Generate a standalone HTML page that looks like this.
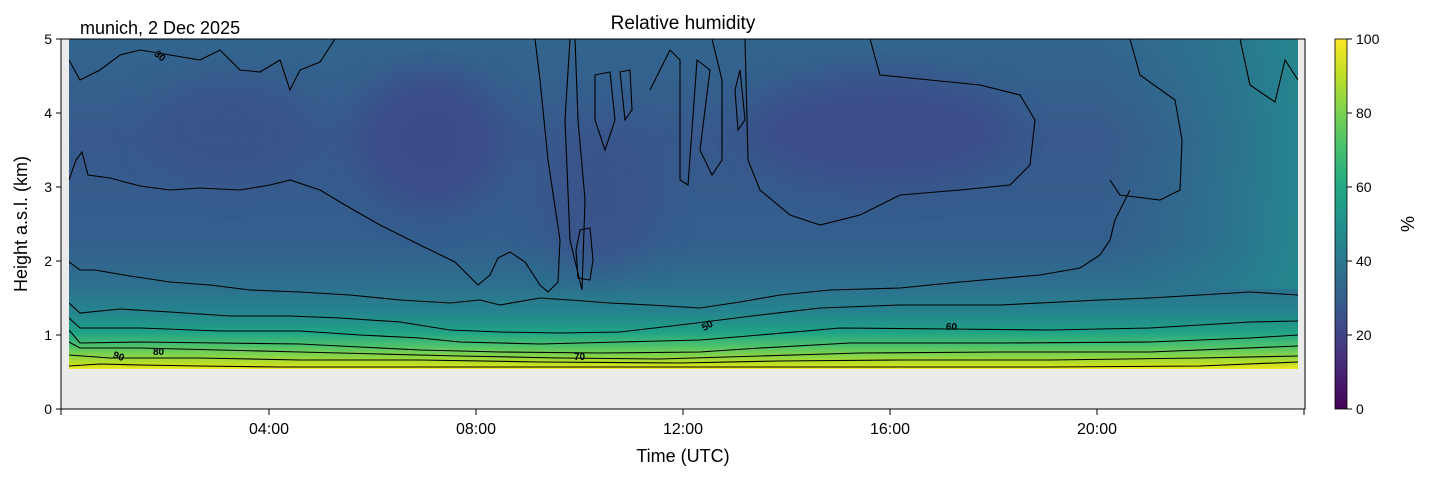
<!DOCTYPE html>
<html><head><meta charset="utf-8"><style>
body{margin:0;background:#fff;}
svg{display:block;font-family:"Liberation Sans",sans-serif;}
</style></head><body>
<svg width="1429" height="478" viewBox="0 0 1429 478">
<defs>
<linearGradient id="vg" x1="0" y1="39" x2="0" y2="369" gradientUnits="userSpaceOnUse">
<stop offset="0" stop-color="#32668e"/>
<stop offset="0.3" stop-color="#38598c"/>
<stop offset="0.62" stop-color="#335f8d"/>
<stop offset="0.75" stop-color="#2d708e"/>
<stop offset="0.83" stop-color="#25858e"/>
<stop offset="0.89" stop-color="#20a386"/>
<stop offset="0.93" stop-color="#4cc26c"/>
<stop offset="0.96" stop-color="#86d549"/>
<stop offset="0.985" stop-color="#c2df23"/>
<stop offset="1" stop-color="#f0e51f"/>
</linearGradient>
<linearGradient id="cb" x1="0" y1="409" x2="0" y2="39" gradientUnits="userSpaceOnUse">
<stop offset="0" stop-color="#440154"/><stop offset="0.1" stop-color="#482475"/>
<stop offset="0.2" stop-color="#414487"/><stop offset="0.3" stop-color="#355f8d"/>
<stop offset="0.4" stop-color="#2a788e"/><stop offset="0.5" stop-color="#21918c"/>
<stop offset="0.6" stop-color="#22a884"/><stop offset="0.7" stop-color="#44bf70"/>
<stop offset="0.8" stop-color="#7ad151"/><stop offset="0.9" stop-color="#bddf26"/>
<stop offset="1" stop-color="#fde725"/>
</linearGradient>
<linearGradient id="rg" x1="1100" y1="0" x2="1298" y2="0" gradientUnits="userSpaceOnUse">
<stop offset="0" stop-color="#2a788e" stop-opacity="0"/>
<stop offset="1" stop-color="#23898e" stop-opacity="0.9"/>
</linearGradient>
<filter id="bl"><feGaussianBlur stdDeviation="18"/></filter>
<clipPath id="cp"><rect x="69" y="39" width="1229" height="330"/></clipPath>
</defs>
<rect x="61" y="39" width="1244" height="370" fill="#ebebeb"/>
<g clip-path="url(#cp)">
<rect x="69" y="39" width="1229" height="330" fill="url(#vg)"/>
<g filter="url(#bl)" opacity="0.85">
<ellipse cx="430" cy="140" rx="70" ry="70" fill="#3e4989"/>
<ellipse cx="880" cy="130" rx="130" ry="55" fill="#3d4b8a"/>
<ellipse cx="230" cy="130" rx="80" ry="50" fill="#3b528b"/>
<ellipse cx="600" cy="200" rx="60" ry="70" fill="#3a538b"/>
</g>
<rect x="1100" y="39" width="198" height="250" fill="url(#rg)"/>
<g fill="none" stroke="#000" stroke-width="1.1">
<path d="M69,180 L76,160 L82,152 L88,175 L110,178 L140,186 L170,190 L200,188 L240,190 L270,185 L290,180 L320,190 L345,205 L380,225 L420,245 L455,262 L478,285 L490,275 L498,258 L510,252 L525,262 L540,285 L548,292 L558,282 L560,240 L548,160 L540,80 L535,39"/>
<path d="M575,39 L578,120 L585,200 L582,290 L570,240 L565,120 L570,39"/>
<path d="M580,230 L590,228 L593,260 L590,280 L578,278 L576,250 Z"/>
<path d="M595,75 L610,72 L615,120 L605,150 L595,120 Z"/>
<path d="M620,72 L630,70 L632,110 L625,120 Z"/>
<path d="M650,90 L660,70 L670,50 L680,60 L680,180 L688,185 L692,130 L697,60 L710,70 L700,150 L712,175 L722,160 L722,80 L712,39"/>
<path d="M735,90 L740,70 L745,120 L738,130 Z"/>
<path d="M745,39 L748,160 L760,190 L790,215 L820,225 L860,215 L900,195 L960,190 L1010,185 L1030,165 L1035,120 L1020,95 L980,85 L930,80 L880,75 L870,39"/>
<path d="M1130,39 L1140,75 L1175,100 L1182,140 L1180,190 L1160,200 L1120,195 L1110,180"/>
<path d="M1240,39 L1250,85 L1275,102 L1285,60 L1298,80"/>
<path d="M69,60 L80,80 L100,70 L120,55 L140,50 L170,55 L200,60 L220,50 L240,70 L260,72 L280,60 L290,90 L300,70 L320,62 L335,39"/>
<path d="M69,262 L80,270 L95,270 L130,276 L170,282 L210,285 L250,290 L300,292 L350,295 L400,300 L450,303 L480,300 L500,305 L540,298 L570,300 L610,303 L650,305 L700,308 L740,302 L780,295 L830,290 L900,288 L960,282 L1040,275 L1080,268 L1100,255 L1110,240 L1115,220 L1125,200 L1130,190"/>
<path d="M1298,295 L1250,292 L1200,295 L1150,298 L1100,300"/>
<path d="M69,303 L80,313 L120,309 L170,312 L230,316 L290,316 L340,318 L400,322 L450,330 L500,332 L560,333 L620,332 L680,325 L760,315 L820,308 L900,305 L1000,305 L1100,300"/>
<path d="M69,318 L80,328 L140,328 L220,331 L300,331 L360,335 L420,338 L460,342 L540,344 L620,342 L700,340 L760,335 L840,328 L950,329 L1050,330 L1150,328 L1250,322 L1298,321"/>
<path d="M69,330 L80,343 L140,342 L220,343 L300,344 L360,347 L420,350 L500,352 L600,353 L700,352 L760,348 L850,343 L1000,343 L1150,342 L1250,338 L1298,335"/>
<path d="M69,342 L80,348 L140,348 L220,350 L300,352 L380,354 L460,356 L560,358 L660,359 L760,356 L860,353 L1000,352 L1150,352 L1298,346"/>
<path d="M69,355 L110,358 L200,358 L300,360 L420,360 L540,362 L680,363 L780,361 L900,360 L1050,360 L1200,358 L1298,356"/>
<path d="M69,366 L100,364 L140,365 L200,366 L280,367 L360,367 L460,367 L560,367 L660,367 L780,367 L900,367 L1050,367 L1200,366 L1298,362"/>
</g>
<g font-size="10" font-weight="bold" fill="#000">
<text x="155" y="59" transform="rotate(40 160 55)">30</text>
<text x="700" y="328" transform="rotate(-30 708 322)">50</text>
<text x="946" y="330">60</text>
<text x="574" y="360">70</text>
<text x="153" y="355">80</text>
<text x="113" y="360" transform="rotate(20 120 357)">90</text>
</g>
</g>
<rect x="61" y="39" width="1244" height="370" fill="none" stroke="#000" stroke-width="1"/>
<g stroke="#000" stroke-width="1">
<line x1="56" y1="409" x2="61" y2="409"/><line x1="56" y1="335" x2="61" y2="335"/>
<line x1="56" y1="261" x2="61" y2="261"/><line x1="56" y1="187" x2="61" y2="187"/>
<line x1="56" y1="113" x2="61" y2="113"/><line x1="56" y1="39" x2="61" y2="39"/>
<line x1="61" y1="409" x2="61" y2="415"/><line x1="269" y1="409" x2="269" y2="415"/>
<line x1="476" y1="409" x2="476" y2="415"/><line x1="683" y1="409" x2="683" y2="415"/>
<line x1="890" y1="409" x2="890" y2="415"/><line x1="1097" y1="409" x2="1097" y2="415"/>
<line x1="1304" y1="409" x2="1304" y2="415"/>
</g>
<g font-size="14" fill="#000" text-anchor="end">
<text x="52" y="414">0</text><text x="52" y="340">1</text><text x="52" y="266">2</text>
<text x="52" y="192">3</text><text x="52" y="118">4</text><text x="52" y="44">5</text>
</g>
<g font-size="16" fill="#000" text-anchor="middle">
<text x="269" y="434">04:00</text><text x="476" y="434">08:00</text><text x="683" y="434">12:00</text>
<text x="890" y="434">16:00</text><text x="1097" y="434">20:00</text>
<text x="683" y="462" font-size="18">Time (UTC)</text>
<text x="683" y="29" font-size="19">Relative humidity</text>
</g>
<text x="80" y="34" font-size="18">munich, 2 Dec 2025</text>
<text transform="translate(27 224) rotate(-90)" font-size="18" text-anchor="middle">Height a.s.l. (km)</text>
<rect x="1335" y="39" width="12" height="370" fill="url(#cb)" stroke="#000" stroke-width="0.8"/>
<g stroke="#000"><line x1="1347" y1="409" x2="1352" y2="409"/><line x1="1347" y1="335" x2="1352" y2="335"/>
<line x1="1347" y1="261" x2="1352" y2="261"/><line x1="1347" y1="187" x2="1352" y2="187"/>
<line x1="1347" y1="113" x2="1352" y2="113"/><line x1="1347" y1="39" x2="1352" y2="39"/></g>
<g font-size="14" fill="#000">
<text x="1356" y="414">0</text><text x="1356" y="340">20</text><text x="1356" y="266">40</text>
<text x="1356" y="192">60</text><text x="1356" y="118">80</text><text x="1356" y="44">100</text>
</g>
<text transform="translate(1414 224) rotate(-90)" font-size="18" text-anchor="middle">%</text>
</svg>
</body></html>
